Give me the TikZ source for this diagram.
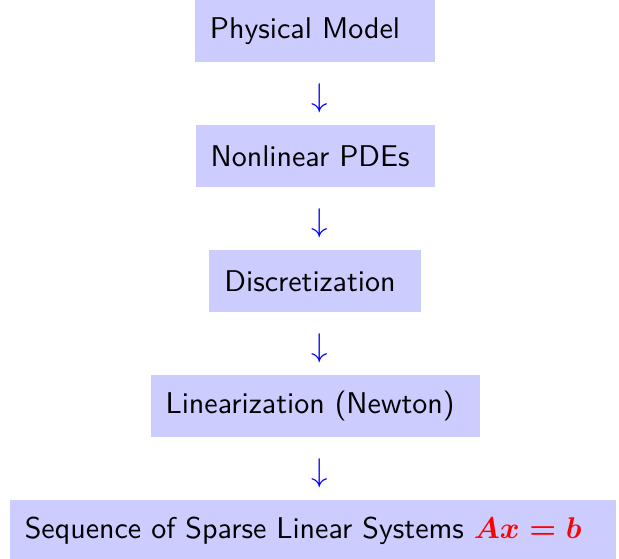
\documentclass[tikz,border=0pt]{standalone}
\usepackage{amsmath,amssymb}
\usepackage{xcolor}
\usepackage{tikz}
\usetikzlibrary{positioning}
\renewcommand{\familydefault}{\sfdefault}

\begin{document}
\begin{tikzpicture}
\tikzstyle{stage}=[fill = blue!20, inner xsep = 5 pt, minimum height = 20.5 pt, node distance = 19.33pt]
\tikzstyle{arr}=[text = blue, inner sep = 0 pt, font = \fontsize{11}{13}\selectfont, node distance = 22.33pt, xshift = 1.67 pt]

\useasboundingbox (0,0) rectangle (206.3pt,-186pt);

\node[stage] (PM) at (105pt,-10.4pt) {Physical Model\ \ \mbox{}};
\node[arr, below of = PM] (a1) {$\downarrow$};
\node[stage, below of = a1, xshift = -1.67 pt] (PDE) {Nonlinear PDEs\ \mbox{}};
\node[arr, below of = PDE] (a2) {$\downarrow$};
\node[stage, below of = a2, xshift = -1.67 pt] (DS) {Discretization\ \mbox{}};
\node[arr, below of = DS] (a3) {$\downarrow$};
\node[stage, below of = a3, xshift = -1.67 pt] (LN) {Linearization (Newton)\ \mbox{}};
\node[arr, below of = LN] (a4) {$\downarrow$};
\node[stage, below of = a4, xshift = -2.33 pt] (SLS) {Sequence of Sparse Linear Systems \textcolor{red}{$\boldsymbol{Ax=b}$}\ \ \mbox{}};
\end{tikzpicture}
\end{document}
